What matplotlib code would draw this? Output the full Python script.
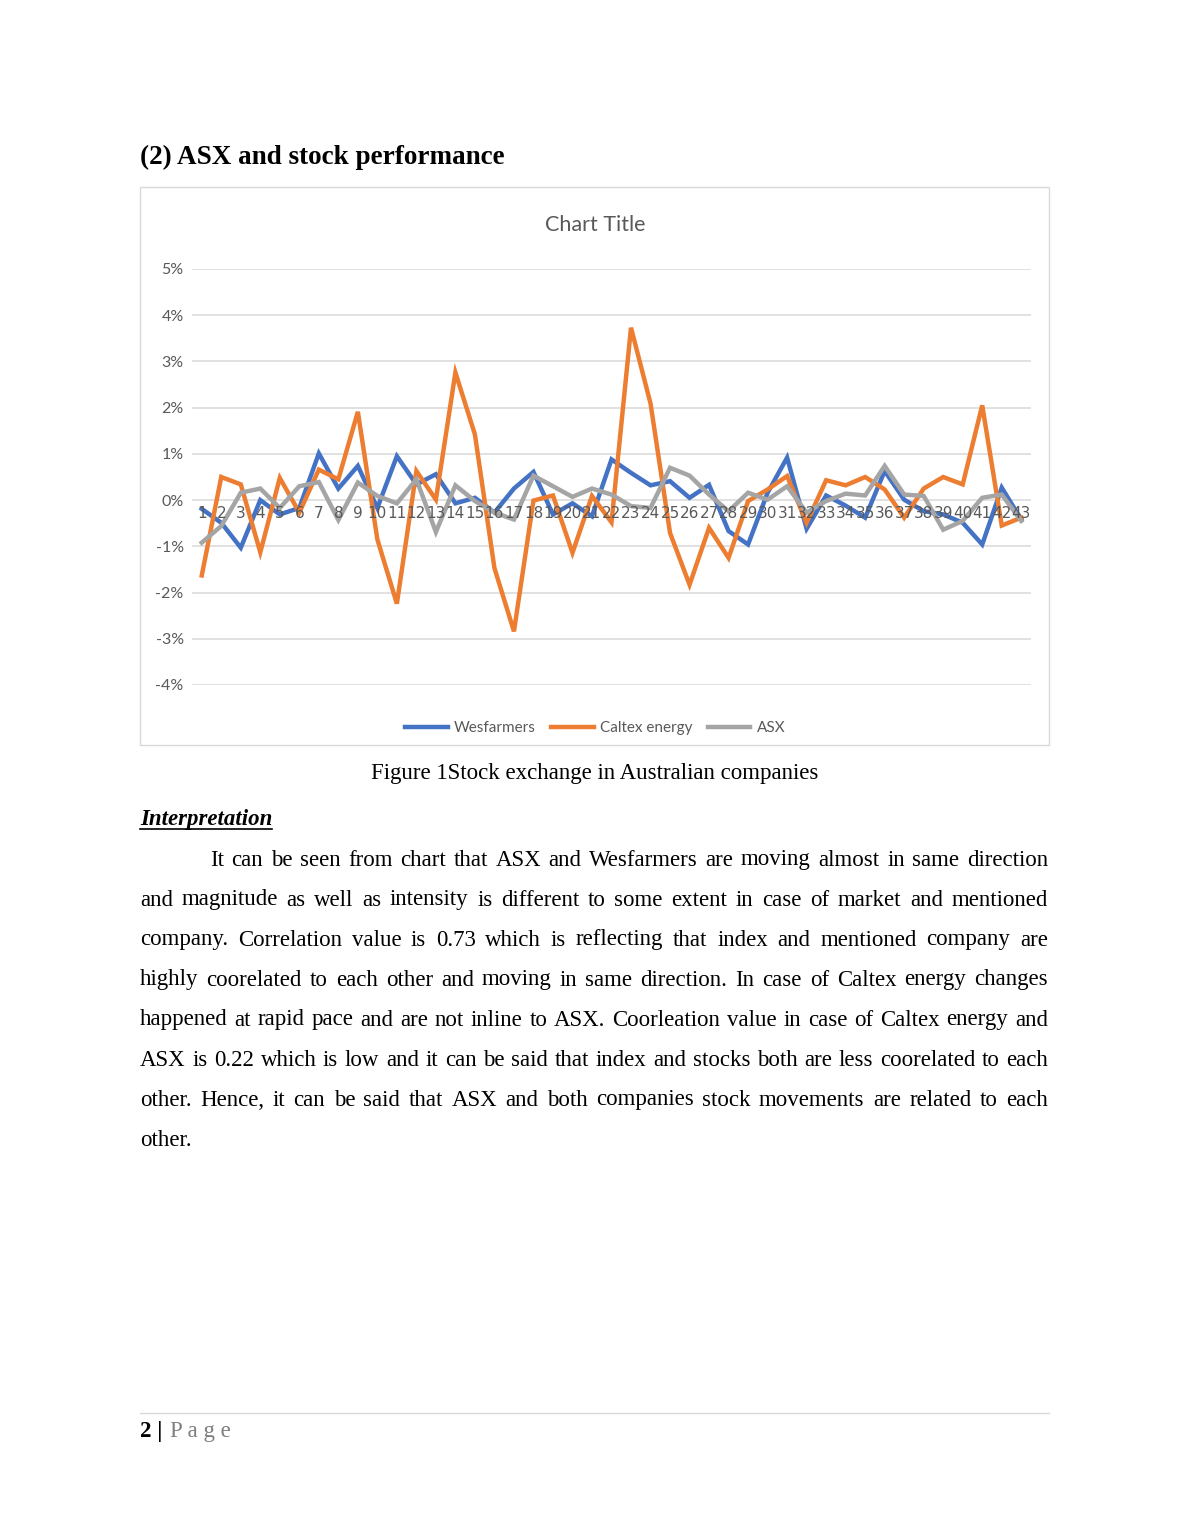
import numpy as np
import matplotlib
matplotlib.use("Agg")
import matplotlib.pyplot as plt
from matplotlib.patches import Rectangle
from matplotlib.lines import Line2D
from matplotlib.ticker import PercentFormatter

plt.rcParams["axes.unicode_minus"] = False

# ---- data (daily returns, %) ----
days = list(range(1, 44))
wesfarmers = [-0.19, -0.49, -1.03, 0.00, -0.31, -0.17, 1.01, 0.25, 0.74, -0.17,
              0.95, 0.34, 0.56, -0.07, 0.05, -0.27, 0.25, 0.61, -0.31, -0.07,
              -0.35, 0.88, 0.59, 0.32, 0.41, 0.05, 0.33, -0.67, -0.96, 0.16,
              0.92, -0.62, 0.10, -0.12, -0.38, 0.63, 0.01, -0.24, -0.31, -0.49,
              -0.96, 0.27, -0.42]
caltex = [-1.63, 0.50, 0.34, -1.13, 0.48, -0.27, 0.66, 0.45, 1.91, -0.85,
          -2.24, 0.63, 0.01, 2.76, 1.42, -1.47, -2.84, -0.01, 0.10, -1.14,
          0.09, -0.48, 3.73, 2.09, -0.71, -1.83, -0.60, -1.25, -0.02, 0.23,
          0.52, -0.49, 0.43, 0.32, 0.50, 0.23, -0.38, 0.25, 0.50, 0.34,
          2.05, -0.55, -0.38]
asx = [-0.92, -0.56, 0.16, 0.25, -0.17, 0.30, 0.39, -0.43, 0.38, 0.09,
       -0.07, 0.45, -0.69, 0.32, -0.02, -0.27, -0.42, 0.53, 0.30, 0.07,
       0.25, 0.12, -0.13, -0.17, 0.70, 0.53, 0.12, -0.24, 0.16, 0.01,
       0.30, -0.27, -0.02, 0.14, 0.10, 0.74, 0.12, 0.09, -0.64, -0.45,
       0.05, 0.12, -0.45]
series_names = ["Wesfarmers", "Caltex energy", "ASX"]
series_colors = ["#4472C4", "#ED7D31", "#A5A5A5"]

body_lines = [
    "It can be seen from chart that ASX and Wesfarmers are moving almost in same direction",
    "and magnitude as well as intensity is different to some extent in case of market and  mentioned",
    "company. Correlation value is 0.73 which is reflecting that index and mentioned company are",
    "highly coorelated to each other and moving in same direction. In case of Caltex energy changes",
    "happened at rapid pace and are not inline to ASX. Coorleation value in case of Caltex energy and",
    "ASX is 0.22 which is low and it can be said that index and stocks both are less coorelated to each",
    "other. Hence, it can be said that ASX and both companies stock movements are related to each",
    "other.",
]

W, H = 1190, 1540
fig = plt.figure(figsize=(W / 100, H / 100), dpi=100)
renderer = fig.canvas.get_renderer()


def fx(px):
    return px / W


def fy(py):
    return 1 - py / H


serif = "Liberation Serif"
sans = "Lato"
grey_txt = "#595959"

# heading
fig.text(fx(140), fy(157), "(2) ASX and stock performance", family=serif,
         weight="bold", fontsize=19.5, va="center", ha="left")

# chart frame
fig.patches.append(Rectangle((fx(140), fy(745)), fx(1049) - fx(140), fy(187) - fy(745),
                             transform=fig.transFigure, fill=False,
                             edgecolor="#D9D9D9", lw=1.0))
fig.text(fx(595), fy(225), "Chart Title", family=sans, fontsize=15.5,
         color=grey_txt, ha="center", va="center")

ax = fig.add_axes([fx(192), fy(685), fx(1031) - fx(192), fy(269) - fy(685)])
yticks = np.arange(-4, 6, 1)
for yv in yticks:
    ax.axhline(yv, color="#D9D9D9", lw=1.1, zorder=0.5)
for vals, name, col in zip([wesfarmers, caltex, asx], series_names, series_colors):
    ax.plot(days, vals, color=col, lw=3.2, label=name, solid_joinstyle="miter", zorder=2)

ax.set_xlim(0.5, 43.5)
ax.set_ylim(-4, 5)
ax.set_yticks(yticks)
ax.yaxis.set_major_formatter(PercentFormatter(decimals=0))
ax.set_xticks(days)
ax.set_xticklabels([str(d) for d in days])
ax.set_axisbelow(False)  # axis labels drawn over the lines, as in the original
for s in ["top", "right", "left", "bottom"]:
    ax.spines[s].set_visible(False)
ax.tick_params(axis="both", length=0, labelcolor=grey_txt)
ax.tick_params(axis="x", pad=4, labelsize=11)
ax.tick_params(axis="y", pad=6, labelsize=11.5)
for lab in ax.get_xticklabels() + ax.get_yticklabels():
    lab.set_family(sans)
# x labels sit at the zero line
ax.spines["bottom"].set_position(("data", 0))

fig.legend(loc="center", bbox_to_anchor=(fx(595), fy(728)), ncol=3, frameon=False,
           prop={"family": sans, "size": 11}, labelcolor=grey_txt,
           handlelength=2.8, columnspacing=1.0, handletextpad=0.4)

# caption
fig.text(fx(595), fy(773), "Figure 1Stock exchange in Australian companies",
         family=serif, fontsize=16.5, ha="center", va="center")

# interpretation heading with underline
t = fig.text(fx(140), fy(819), "Interpretation", family=serif, fontsize=16.5,
             weight="bold", style="italic", ha="left", va="center")
bb = t.get_window_extent(renderer)
fig.lines.append(Line2D([fx(140), fx(140) + bb.width / W], [fy(829), fy(829)],
                        transform=fig.transFigure, color="black", lw=1.2))


# justified body text
def draw_line(words, x0, x1, y, justify):
    objs = [fig.text(0, fy(y), w, family=serif, fontsize=16.5, va="center", ha="left")
            for w in words]
    widths = [o.get_window_extent(renderer).width for o in objs]
    if justify and len(words) > 1:
        gap = (x1 - x0 - sum(widths)) / (len(words) - 1)
    else:
        space = fig.text(0, 0, "a a", family=serif, fontsize=16.5)
        sp2 = fig.text(0, 0, "aa", family=serif, fontsize=16.5)
        gap = space.get_window_extent(renderer).width - sp2.get_window_extent(renderer).width
        space.remove()
        sp2.remove()
    x = x0
    for o, w in zip(objs, widths):
        o.set_x(fx(x))
        x += w + gap


y0 = 860
for i, line in enumerate(body_lines):
    words = line.split()
    x_start = 210 if i == 0 else 140
    draw_line(words, x_start, 1048, y0 + 40 * i, justify=(i < len(body_lines) - 1))

# footer
fig.lines.append(Line2D([fx(140), fx(1049)], [fy(1413), fy(1413)],
                        transform=fig.transFigure, color="#D9D9D9", lw=1.0))
fig.text(fx(140), fy(1432), "2 |", family=serif, fontsize=16.5, weight="bold",
         ha="left", va="center")
fig.text(fx(170), fy(1432), "P a g e", family=serif, fontsize=16.5,
         color="#7F7F7F", ha="left", va="center")

fig.savefig("out.png", dpi=100, facecolor="white")
